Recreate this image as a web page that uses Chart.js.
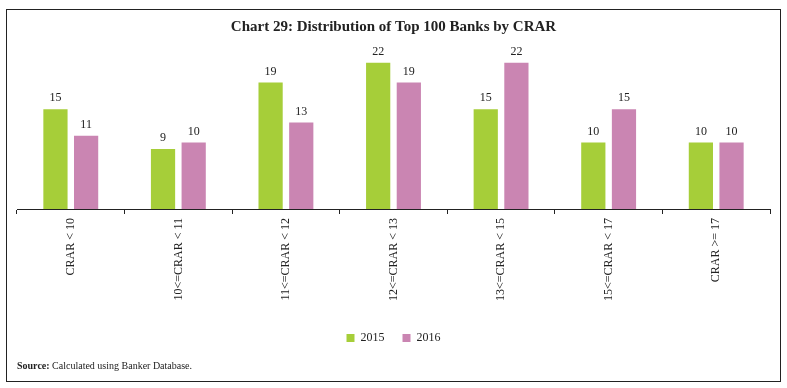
<!DOCTYPE html>
<html>
<head>
<meta charset="utf-8">
<script src="https://cdn.jsdelivr.net/npm/chart.js@4.4.0/dist/chart.umd.min.js"></script>
<style>
  html, body { margin: 0; padding: 0; background: #fff; }
  #wrap { position: absolute; left: 0; top: 0; width: 787px; height: 388px; }
</style>
</head>
<body>
<div id="wrap"><canvas id="chart29" width="787" height="388"></canvas></div>
<script>
// categorias e valores
const categorias = ['CRAR < 10', '10<=CRAR < 11', '11<=CRAR < 12', '12<=CRAR < 13', '13<=CRAR < 15', '15<=CRAR < 17', 'CRAR >= 17'];
const valores2015 = [15, 9, 19, 22, 15, 10, 10];
const valores2016 = [11, 10, 13, 19, 22, 15, 10];
const anos = ['2015', '2016'];

const serif = "'Liberation Serif', 'DejaVu Serif', serif";

// rótulos em cima das barras
const rotulosPlugin = {
    id: 'rotulos',
    afterDatasetsDraw(chart) {
        const ctx = chart.ctx;
        ctx.save();
        ctx.font = '12px ' + serif;
        ctx.fillStyle = '#222';
        ctx.textAlign = 'center';
        ctx.textBaseline = 'bottom';
        chart.data.datasets.forEach((ds, i) => {
            chart.getDatasetMeta(i).data.forEach((bar, j) => {
                ctx.fillText(ds.data[j], bar.x, bar.y - 5);
            });
        });
        ctx.restore();
    }
};

// moldura e fonte
const molduraPlugin = {
    id: 'moldura',
    afterDraw(chart) {
        const ctx = chart.ctx;
        ctx.save();
        ctx.strokeStyle = '#222';
        ctx.lineWidth = 1;
        ctx.strokeRect(6.5, 9.5, 774, 372);
        ctx.fillStyle = '#222';
        ctx.textBaseline = 'middle';
        ctx.font = 'bold 10px ' + serif;
        ctx.fillText('Source:', 17, 366);
        const w = ctx.measureText('Source: ').width;
        ctx.font = '10px ' + serif;
        ctx.fillText('Calculated using Banker Database.', 17 + w, 366);
        ctx.restore();
    }
};

const ctx29 = document.getElementById('chart29').getContext('2d');

new Chart(ctx29, {
    type: 'bar',
    data: {
        labels: categorias,
        datasets: [{
            label: anos[0],
            data: valores2015,
            backgroundColor: '#A6CE39',
            categoryPercentage: 0.57,
            barPercentage: 0.79
        }, {
            label: anos[1],
            data: valores2016,
            backgroundColor: '#CA85B2',
            categoryPercentage: 0.57,
            barPercentage: 0.79
        }]
    },
    options: {
        responsive: false,
        animation: false,
        layout: { padding: { left: 17, right: 17, top: 0, bottom: 34 } },
        plugins: {
            title: {
                display: true,
                text: 'Chart 29: Distribution of Top 100 Banks by CRAR',
                font: { family: serif, size: 15, weight: 'bold' },
                color: '#222',
                padding: { top: 18, bottom: 8 }
            },
            legend: {
                position: 'bottom',
                labels: {
                    boxWidth: 8,
                    boxHeight: 8,
                    padding: 18,
                    color: '#222',
                    font: { family: serif, size: 12 }
                }
            },
            tooltip: { enabled: false }
        },
        scales: {
            x: {
                grid: { display: true, offset: true, drawOnChartArea: false, tickLength: 5, color: '#222' },
                border: { color: '#222', width: 1 },
                ticks: {
                    minRotation: 90,
                    maxRotation: 90,
                    color: '#222',
                    padding: 4,
                    font: { family: serif, size: 12 }
                },
                afterFit(scale) { scale.height = 105; }
            },
            y: {
                display: false,
                min: 0,
                max: 24.8
            }
        }
    },
    plugins: [rotulosPlugin, molduraPlugin]
});
</script>
</body>
</html>
